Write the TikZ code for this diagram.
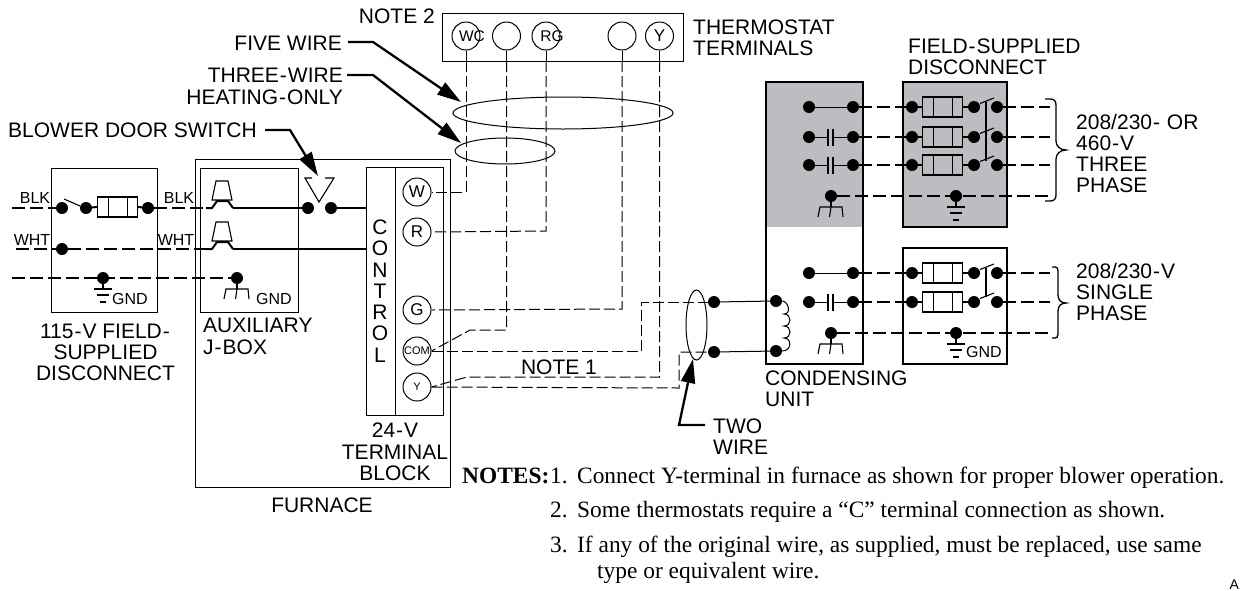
\documentclass[tikz,border=0pt]{standalone}
\usepackage{fontspec}
\setmainfont{Liberation Sans}
\newfontfamily\notefont{Liberation Serif}
\usetikzlibrary{arrows.meta}
\definecolor{panelgray}{RGB}{187,189,192}
\newcommand{\hy}{\kern1pt-\kern1pt}
\tikzset{
  thin wire/.style={line width=1pt},
  wire/.style={line width=2pt},
  dwire/.style={line width=2pt,dash pattern=on 13pt off 5pt},
  tdash/.style={line width=1pt,dash pattern=on 11pt off 4pt},
  boxl/.style={draw,line width=1.1pt},
  dot/.style={circle,fill=black,inner sep=0pt,minimum size=12pt},
  term/.style={circle,draw,line width=1pt,inner sep=0pt,minimum size=28pt},
  lbl/.style={font=\fontsize{21}{21.3}\selectfont,inner sep=0pt,align=left},
  slbl/.style={font=\fontsize{16}{16}\selectfont,inner sep=0pt},
  leader/.style={line width=2.3pt,-{Triangle[length=24pt,width=14pt]}},
  note/.style={font=\notefont\fontsize{23.4}{26}\selectfont,anchor=base west,inner sep=0pt},
  fuse/.style={draw,line width=1.1pt,minimum width=40pt,minimum height=20pt,inner sep=0pt,
    path picture={\draw[line width=1pt] ([xshift=11pt]path picture bounding box.north west)--([xshift=11pt]path picture bounding box.south west)
      ([xshift=-10pt]path picture bounding box.north east)--([xshift=-10pt]path picture bounding box.south east);}},
}
\newcommand{\earth}[2]{\draw[line width=1.1pt] (#1,#2)--(#1,#2+11);
  \draw[line width=1.1pt] (#1-9,#2+11)--(#1+9,#2+11) (#1-6,#2+17)--(#1+6,#2+17) (#1-3,#2+24)--(#1+3,#2+24);}
\newcommand{\chassis}[2]{\draw[line width=1.1pt] (#1,#2)--(#1,#2+11);
  \draw[line width=1.1pt] (#1-13,#2+21)--(#1-11,#2+11)--(#1+11,#2+11)--(#1+12,#2+21) (#1,#2+11)--(#1-1.5,#2+21);}
\newcommand{\capac}[2]{\draw[line width=1.1pt] (#1-2.5,#2-8.5)--(#1-2.5,#2+8.5) (#1+2.5,#2-8.5)--(#1+2.5,#2+8.5);}
\newcommand{\plug}[2]{\draw[line width=1.1pt] (#1-10,#2-8)--(#1-6,#2-27)--(#1+6,#2-27)--(#1+10,#2-8)--cycle;
  \draw[wire] (#1-16,#2)--(#1-10,#2)--(#1-5,#2-7)--(#1+6,#2-7)--(#1+11,#2);}
\begin{document}
\begin{tikzpicture}[x=1pt,y=-1pt]
\useasboundingbox (0,0) rectangle (1240,590);
% shaded areas
\fill[panelgray] (766,82) rectangle (863,227);
\fill[panelgray] (903,82) rectangle (1007,227);
% boxes
\node[boxl,minimum width=106pt,minimum height=144pt,anchor=north west] (linebox) at (51,168) {};
\node[boxl,minimum width=255pt,minimum height=328pt,anchor=north west] (furnace) at (195,159) {};
\node[boxl,minimum width=98pt,minimum height=144pt,anchor=north west] (jbox) at (200,168) {};
\node[boxl,minimum width=29pt,minimum height=248pt,anchor=north west] (ctrl) at (366,167) {};
\node[boxl,minimum width=48pt,minimum height=248pt,anchor=north west] (tblock) at (395,167) {};
\node[boxl,minimum width=241pt,minimum height=48pt,anchor=north west] (tstat) at (442,13) {};
\draw[boxl] (766,82) rectangle (863,364);
\draw[boxl] (903,82) rectangle (1007,227);
\draw[boxl] (903,248) rectangle (1007,364);
% control label
\node[lbl,align=center] (ctrllabel) at (380,291) {C\\O\\N\\T\\R\\O\\L};
% furnace terminals
\node[term] (tW) at (417,192) {\fontsize{17}{17}\selectfont W};
\node[term] (tR) at (417,232) {\fontsize{17}{17}\selectfont R};
\node[term] (tG) at (417,310) {\fontsize{17}{17}\selectfont G};
\node[term] (tC) at (417,351) {\fontsize{11}{11}\selectfont COM};
\node[term] (tY) at (417,387) {\fontsize{11}{11}\selectfont Y};
% thermostat terminals
\node[term] (sWC) at (466,36) {};
\node[term] (s2) at (506.5,36) {};
\node[term] (sRG) at (546,36) {};
\node[term] (s4) at (622,36) {};
\node[term] (sY) at (659.5,36) {\fontsize{17}{17}\selectfont Y};
\node[inner sep=0pt,font=\fontsize{15.5}{16}\selectfont] (lWC) at (472,36) {WC};
\node[inner sep=0pt,font=\fontsize{15.5}{16}\selectfont] (lRG) at (552,36) {RG};
% low-voltage wires
\draw[thin wire] (sWC.south)--(466,61) (s2.south)--(506.5,61) (sRG.south)--(546,61) (s4.south)--(622,61) (sY.south)--(659.5,61);
\draw[tdash] (466,61)--(466,192)--(tW.east);
\draw[tdash] (546,61)--(546,231)--(tR.east);
\draw[tdash] (622,61)--(622,309)--(tG.east);
\draw[tdash] (506.5,61)--(506.5,330)--(470,330)--(tC.east);
\draw[tdash] (659.5,61)--(659.5,377)--(467,377)--(tY.east);
\coordinate (jA) at (714,302);
\coordinate (jB) at (714,352);
\draw[tdash] (tC.east)--(641,351)--(641,302)--(jA);
\draw[tdash] (tY.east)--(679,388)--(679,352)--(jB);
% ellipses
\draw[thin wire] (563,113) ellipse [x radius=110,y radius=16];
\draw[thin wire] (505,151) ellipse [x radius=50,y radius=13];
\draw[thin wire] (696.5,325) ellipse [x radius=10.5,y radius=35];
% leaders
\coordinate (aFive) at (461,102);
\coordinate (aThree) at (461,143);
\coordinate (aBlow) at (318,176);
\coordinate (aTwo) at (693,359);
\draw[leader] (348,42)--(373,42)--(aFive);
\draw[leader] (347,75)--(373,75)--(aThree);
\draw[leader] (265,130)--(290,130)--(aBlow);
\draw[leader] (705,425)--(679,425)--(aTwo);
% 115 V wiring
\node[dot] (b1) at (62,208) {};
\node[dot] (b2) at (86,208) {};
\node[dot] (b3) at (148,208) {};
\node[dot] (w1) at (62,249) {};
\node[dot] (g1) at (103,278) {};
\node[dot] (g2) at (237,278) {};
\node[fuse] (f0) at (117.5,207) {};
\draw[line width=1.1pt] (64,199)--(80,206);
\draw[dwire] (12,208)--(b1);
\draw[wire] (b2)--(f0.west) (f0.east)--(b3);
\draw[dwire] (b3)--(206,208);
\draw[dwire] (16,249)--(w1);
\draw[dwire] (w1)--(206,249);
\draw[dwire] (12,278)--(g2);
\plug{222}{208}
\plug{222}{249}
\node[dot] (s1) at (308,208) {};
\node[dot] (s2b) at (331,208) {};
\draw[wire] (233,208)--(s1) (s2b)--(ctrl.west |- s2b);
\draw[wire,line width=1.6pt] (233,249)--(ctrl.west |- 0,249);
\draw[line width=1.1pt] (312,178)--(305,178)--(319,202)--(334,178)--(325,178);
\earth{103}{278}
\chassis{237}{278}
% condensing unit
\foreach \y/\n in {107/a,137/b,165/c,273/d,302/e}{
  \node[dot] (cl\n) at (809,\y) {};
  \node[dot] (cr\n) at (853,\y) {};
  \node[dot] (dl\n) at (912,\y) {};
  \node[fuse] (df\n) at (942.5,\y) {};
  \node[dot] (dm\n) at (974,\y) {};
  \node[dot] (dr\n) at (997,\y) {};
  \draw[wire] (dl\n)--(df\n.west) (df\n.east)--(dm\n);
  \draw[dwire] (cr\n)--(dl\n);
  \draw[dwire] (dr\n)--(1050,\y);
  \draw[line width=1.1pt] (980,\y-3.5)--(994,\y-9);
}
\draw[line width=1.1pt] (986,102)--(986,161) (986,268)--(986,297);
\draw[thin wire] (cla)--(cra) (cld)--(crd);
\foreach \y/\n in {137/b,165/c,302/e}{
  \draw[thin wire] (cl\n)--(828,\y) (833,\y)--(cr\n);
  \capac{830.5}{\y}
}
\node[dot] (gu1) at (831,196) {};
\node[dot] (gd1) at (956,196) {};
\node[dot] (gu2) at (831,333) {};
\node[dot] (gd2) at (956,333) {};
\draw[dwire] (gu1)--(1050,196);
\draw[dwire] (gu2)--(1050,333);
\chassis{831}{196}
\chassis{831}{333}
\earth{956}{196}
\earth{956}{333}
% compressor contactor coil
\node[dot] (jAd) at (714,302) {};
\node[dot] (jBd) at (714,352) {};
\node[dot] (cA) at (776,301) {};
\node[dot] (cB) at (776,351) {};
\draw[thin wire] (jAd)--(cA) (jBd)--(cB);
\draw[thin wire] (cA) .. controls (788,301) and (792,314) .. (784,314)
  .. controls (792,314) and (792,326) .. (784,326)
  .. controls (792,326) and (792,338) .. (784,338)
  .. controls (792,338) and (792,351) .. (cB);
% braces
\draw[line width=1.3pt] (1045,99)--(1050,99) .. controls (1054,99) and (1056,101) .. (1056,105)--(1056,141)
  .. controls (1056,146) and (1060,150) .. (1066,150)
  .. controls (1060,150) and (1056,154) .. (1056,159)--(1056,195) .. controls (1056,199) and (1054,201) .. (1050,201)--(1045,201);
\draw[line width=1.3pt] (1052,267)--(1055,267) .. controls (1057,267) and (1058,268) .. (1058,271)--(1058,295)
  .. controls (1058,300) and (1061,303) .. (1066,303)
  .. controls (1061,303) and (1058,306) .. (1058,311)--(1058,334) .. controls (1058,337) and (1057,338) .. (1055,338)--(1052,338);
% labels
\node[lbl,anchor=west] (nBDS) at (8,130) {BLOWER DOOR SWITCH};
\node[lbl,anchor=east] (nFive) at (342,43) {FIVE WIRE};
\node[lbl,anchor=east,align=right] (nThree) at (343,86.5) {THREE\hy WIRE\\HEATING\hy ONLY};
\node[lbl,anchor=east] (nN2) at (435,16) {NOTE 2};
\node[lbl,anchor=west] (nTT) at (693,38) {THERMOSTAT\\TERMINALS};
\node[lbl,anchor=west] (nFS) at (908,57) {FIELD\hy SUPPLIED\\DISCONNECT};
\node[lbl,anchor=west] (n208) at (1076,153.5) {208/230\hy{} OR\\460\hy V\\THREE\\PHASE};
\node[lbl,anchor=west] (n208b) at (1076,292) {208/230\hy V\\SINGLE\\PHASE};
\node[lbl,align=center] (n115) at (105.5,352.5) {115\hy V FIELD\hy\\SUPPLIED\\DISCONNECT};
\node[lbl,anchor=west] (nAux) at (203,336.5) {AUXILIARY\\J\hy BOX};
\node[lbl,align=center] (n24) at (395,452) {24\hy V\\TERMINAL\\BLOCK};
\node[lbl] (nFurn) at (322,505) {FURNACE};
\node[lbl,anchor=west] (nCU) at (765,388.5) {CONDENSING\\UNIT};
\node[lbl] (nN1) at (559,367) {NOTE 1};
\node[lbl,anchor=west] (nTW) at (713,437) {TWO\\WIRE};
\node[slbl] (nBLK) at (35,198) {BLK};
\node[slbl] (nWHT) at (32,240) {WHT};
\node[slbl] (nBLK2) at (179,198) {BLK};
\node[slbl] (nWHT2) at (176,240) {WHT};
\node[slbl,anchor=west] (nG1) at (112,299) {GND};
\node[slbl,anchor=west] (nG2) at (256,299) {GND};
\node[slbl,anchor=west] (nG3) at (966,352) {GND};
% notes
\node[note,font=\notefont\bfseries\fontsize{23.4}{26}\selectfont] (nb) at (462,483) {NOTES:};
\node[note] (n1) at (550,483) {\makebox[27pt][l]{1.}Connect Y-terminal in furnace as shown for proper blower operation.};
\node[note] (n2) at (550,517) {\makebox[27pt][l]{2.}Some thermostats require a “C” terminal connection as shown.};
\node[note] (n3) at (550,552) {\makebox[27pt][l]{3.}If any of the original wire, as supplied, must be replaced, use same};
\node[note] (n4) at (597,578) {type or equivalent wire.};
\node[slbl,anchor=base west,font=\fontsize{14}{14}\selectfont] (nA) at (1229.5,589) {A};
\end{tikzpicture}
\end{document}
